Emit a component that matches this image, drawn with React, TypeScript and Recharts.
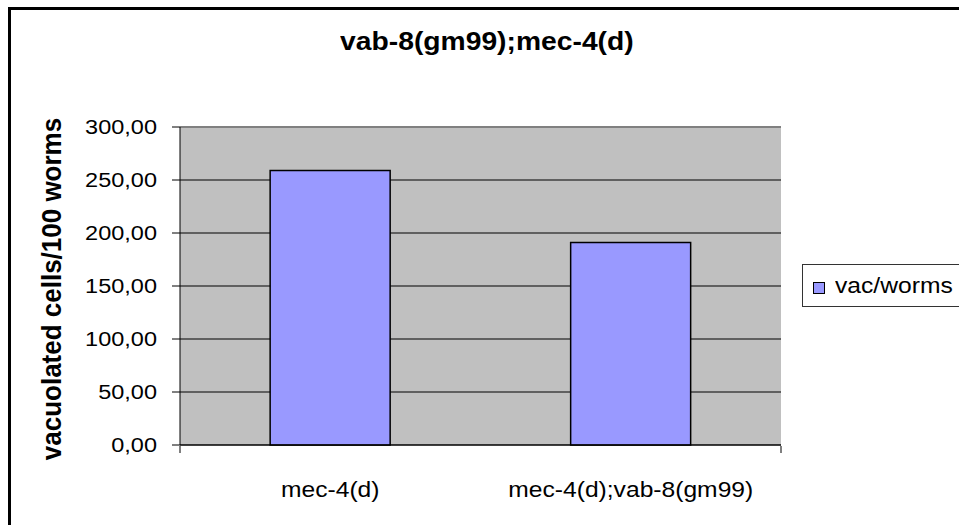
import React from 'react';
import { BarChart, Bar, XAxis, YAxis, CartesianGrid, Legend, ReferenceLine } from 'recharts';

const categories = ['mec-4(d)', 'mec-4(d);vab-8(gm99)'];
const vacWorms = [259, 191];
const yTicks = [0, 50, 100, 150, 200, 250, 300];
const edgeTicks = [0, 1, 2];
const seriesName = 'vac/worms';
const titleText = 'vab-8(gm99);mec-4(d)';
const yLabelText = 'vacuolated cells/100 worms';

const data = categories.map((c, i) => ({ name: c, value: vacWorms[i] }));

const FONT = '"Liberation Sans", Arial, sans-serif';
const fmt = (v: number) => v.toFixed(2).replace('.', ',');

const YTick = (props: any) => {
  const { x, y, payload } = props;
  return (
    <text
      transform={`translate(${x},${y}) scale(1.12,1)`}
      textAnchor="end"
      dy="0.355em"
      fontSize={21}
      fontFamily={FONT}
      fill="#000"
    >
      {fmt(payload.value)}
    </text>
  );
};

const XTick = (props: any) => {
  const { x, y, payload } = props;
  return (
    <text
      transform={`translate(${x},${y + 52}) scale(1.12,1)`}
      textAnchor="middle"
      fontSize={22}
      fontFamily={FONT}
      fill="#000"
    >
      {payload.value}
    </text>
  );
};

const EmptyTick = () => <g />;

const YLabel = () => (
  <text
    transform="translate(61,289) rotate(-90) scale(1,1.08)"
    textAnchor="middle"
    fontSize={26}
    fontWeight="bold"
    fontFamily={FONT}
    fill="#000"
  >
    {yLabelText}
  </text>
);

const LegendContent = () => (
  <div
    style={{
      width: 170,
      height: 43,
      border: '1px solid #333',
      background: '#fff',
      boxSizing: 'border-box',
      position: 'relative',
      fontFamily: FONT,
    }}
  >
    <div
      style={{
        position: 'absolute',
        left: 10,
        top: 17,
        width: 10,
        height: 10,
        background: '#9999FF',
        border: '1px solid #000',
      }}
    />
    <div
      style={{
        position: 'absolute',
        left: 32,
        top: 10,
        fontSize: 22,
        lineHeight: '22px',
        whiteSpace: 'nowrap',
        transform: 'scaleX(1.12)',
        transformOrigin: 'left center',
        color: '#000',
      }}
    >
      {seriesName}
    </div>
  </div>
);

export default function App() {
  return (
    <div
      style={{
        position: 'absolute',
        left: 0,
        top: 0,
        width: 959,
        height: 525,
        overflow: 'hidden',
        background: '#fff',
        fontFamily: FONT,
      }}
    >
      <div
        style={{
          position: 'absolute',
          left: 8,
          top: 7,
          width: 1000,
          height: 600,
          borderTop: '3px solid #000',
          borderLeft: '3px solid #000',
        }}
      />
      <div
        style={{
          position: 'absolute',
          left: 0,
          top: 29,
          width: 974,
          textAlign: 'center',
          fontSize: 25,
          lineHeight: '25px',
          fontWeight: 'bold',
          color: '#000',
        }}
      >
        <span style={{ display: 'inline-block', transform: 'scaleX(1.13)' }}>{titleText}</span>
      </div>
      <BarChart
        width={959}
        height={525}
        data={data}
        margin={{ top: 127, right: 178, bottom: 78, left: 0 }}
        barCategoryGap="30%"
        style={{ position: 'absolute', left: 0, top: 0 }}
      >
        <CartesianGrid vertical={false} stroke="#000" fill="#C0C0C0" fillOpacity={1} />
        <XAxis
          dataKey="name"
          height={1}
          tickLine={false}
          tickSize={0}
          tickMargin={0}
          axisLine={{ stroke: '#000', strokeWidth: 1 }}
          tick={<XTick />}
          interval={0}
        />
        <XAxis
          xAxisId="edges"
          type="number"
          domain={[0, 2]}
          ticks={edgeTicks}
          allowDataOverflow
          height={1}
          axisLine={false}
          tick={<EmptyTick />}
          tickSize={7}
          tickLine={{ stroke: '#000', strokeWidth: 1 }}
          interval={0}
        />
        <YAxis
          width={180}
          domain={[0, 300]}
          ticks={yTicks}
          interval={0}
          tickSize={8}
          tickMargin={15}
          axisLine={{ stroke: '#000' }}
          tickLine={{ stroke: '#000' }}
          tick={<YTick />}
          label={<YLabel />}
        />
        <ReferenceLine y={300} stroke="#808080" strokeWidth={2} />
        <ReferenceLine xAxisId="edges" x={2} stroke="#808080" strokeWidth={2} />
        <Legend
          layout="vertical"
          align="center"
          verticalAlign="middle"
          content={<LegendContent />}
          wrapperStyle={{ position: 'absolute', left: 802, top: 264, width: 170, height: 43 }}
        />
        <Bar
          dataKey="value"
          name={seriesName}
          fill="#9999FF"
          stroke="#000"
          strokeWidth={1.5}
          isAnimationActive={false}
        />
      </BarChart>
    </div>
  );
}
